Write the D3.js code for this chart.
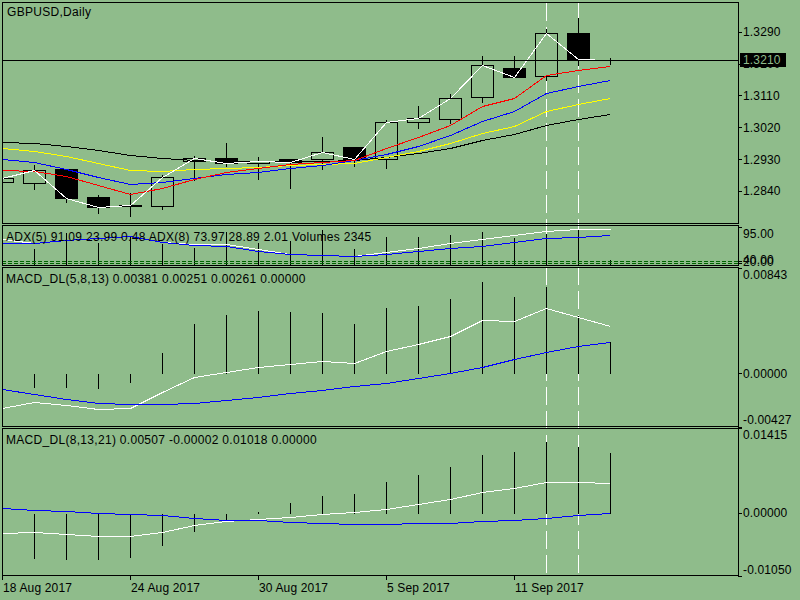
<!DOCTYPE html>
<html>
<head>
<meta charset="utf-8">
<script src="https://cdn.jsdelivr.net/npm/d3@7"></script>
<style>
  html, body { margin: 0; padding: 0; background: #8fbc8b; }
  svg { display: block; font-family: "Liberation Sans", Arial, sans-serif; font-size: 12px; letter-spacing: 0.15px; }
  .legend { letter-spacing: 0.3px; }
</style>
</head>
<body>
<div id="chart"></div>
<script>
// ---- data ----
const dates = ["18 Aug 2017","21 Aug 2017","22 Aug 2017","23 Aug 2017","24 Aug 2017","25 Aug 2017",
  "28 Aug 2017","29 Aug 2017","30 Aug 2017","31 Aug 2017","1 Sep 2017","4 Sep 2017","5 Sep 2017",
  "6 Sep 2017","7 Sep 2017","8 Sep 2017","11 Sep 2017","12 Sep 2017","13 Sep 2017","14 Sep 2017"];
const dateTickIdx = [0, 4, 8, 12, 16];
const markIdx = [17, 18]; // dashed vertical lines

const open  = [1.28663,1.28617,1.29021,1.28230,1.27990,1.27990,1.29256,1.29332,1.29199,1.29295,
               1.29295,1.29634,1.29312,1.30341,1.30425,1.31047,1.31866,1.31640,1.32855,1.32100];
const high  = [1.28800,1.29163,1.29058,1.28315,1.28363,1.28880,1.29417,1.29776,1.29389,1.29324,
               1.29954,1.29634,1.30434,1.30829,1.31177,1.32242,1.32242,1.33013,1.33324,1.32177];
const low   = [1.28620,1.28456,1.28081,1.27770,1.27702,1.27891,1.28711,1.29115,1.28739,1.28493,
               1.29030,1.29115,1.29044,1.30171,1.30312,1.30923,1.31620,1.31536,1.31959,1.31980];
const close = [1.28759,1.28985,1.28211,1.27962,1.27995,1.28787,1.29324,1.29182,1.29256,1.29228,
               1.29493,1.29304,1.30341,1.30454,1.31019,1.31951,1.31629,1.32855,1.32120,1.32102];

const maRed    = [1.28988,1.28979,1.28818,1.28578,1.28324,1.28476,1.28739,1.28928,1.29055,1.29157,
                  1.29228,1.29287,1.29615,1.29934,1.30273,1.30801,1.31041,1.31677,1.31832,1.31931];
const maBlue   = [1.29295,1.29211,1.29027,1.28804,1.28598,1.28668,1.28781,1.28880,1.28951,1.29050,
                  1.29149,1.29276,1.29459,1.29671,1.29982,1.30377,1.30674,1.31174,1.31375,1.31527];
const maYellow = [1.29623,1.29538,1.29397,1.29191,1.28993,1.28956,1.29021,1.29050,1.29086,1.29126,
                  1.29163,1.29205,1.29360,1.29544,1.29764,1.30030,1.30250,1.30654,1.30852,1.31019];
const maBlack  = [1.29793,1.29747,1.29671,1.29558,1.29417,1.29324,1.29276,1.29256,1.29247,1.29247,
                  1.29262,1.29290,1.29375,1.29482,1.29629,1.29841,1.30002,1.30264,1.30425,1.30567];
const priceTicks = [1.2840, 1.2930, 1.3020, 1.3110, 1.3200, 1.3290];

const adx5 = [65,56.25,62.5,67.5,71.75,57.5,52,53,40,27.5,26.25,23.25,31.75,42.5,54.25,65,75.75,85,90,91.09];
const adx8 = [56.25,56.25,62.5,67.5,71.75,57.5,50,48.25,35.75,28.75,26.25,21.75,27.5,34.25,41.75,48.25,56.75,66.75,69.25,73.97];
const volumes = [10000,6800,13080,9400,11720,9000,7080,13480,9200,10200,14400,6800,11480,11480,12400,13720,11080,12800,14680,2345];
const adxTicks = [95];
const adxLevels = [9, 4];
const adxLevelLabels = ["40.00", "20.00"];

const m1Hist   = [-0.00100,-0.00107,-0.00107,-0.00115,-0.00067,0.00169,0.00401,0.00474,0.00508,0.00500,
                  0.00490,0.00401,0.00530,0.00548,0.00602,0.00741,0.00621,0.00701,0.00468,0.00261];
const m1Main   = [-0.00281,-0.00228,-0.00254,-0.00289,-0.00281,-0.00148,-0.00027,0.00013,0.00053,0.00075,
                  0.00101,0.00085,0.00181,0.00235,0.00299,0.00428,0.00420,0.00522,0.00450,0.00381];
const m1Signal = [-0.00128,-0.00166,-0.00209,-0.00236,-0.00249,-0.00246,-0.00236,-0.00214,-0.00188,-0.00161,
                  -0.00134,-0.00102,-0.00075,-0.00040,0.00000,0.00053,0.00112,0.00169,0.00219,0.00251];
const m1Ticks = [-0.00427, 0, 0.00843];

const m2Hist   = [-0.00720,-0.00749,-0.00772,-0.00772,-0.00732,-0.00539,-0.00306,-0.00123,0.00038,0.00178,
                  0.00294,0.00338,0.00538,0.00655,0.00788,0.00988,0.01038,0.01210,0.01121,0.01018];
const m2Main   = [-0.00333,-0.00316,-0.00345,-0.00378,-0.00378,-0.00316,-0.00195,-0.00140,-0.00100,-0.00057,
                  -0.00012,0.00017,0.00072,0.00155,0.00238,0.00350,0.00416,0.00516,0.00516,0.00507];
const m2Signal = [0.00083,0.00055,0.00027,0.00000,-0.00017,-0.00040,-0.00083,-0.00112,-0.00123,-0.00150,
                  -0.00166,-0.00183,-0.00183,-0.00173,-0.00166,-0.00140,-0.00112,-0.00083,-0.00040,-0.00002];
const m2Ticks = [-0.01050, 0, 0.01415];

// ---- layout ----
const W = 800, H = 600;
const bg = '#8fbc8b';
const left = 2, right = 738;
const panels = {
  main: {top: 2, bottom: 223},
  adx:  {top: 225, bottom: 265},
  m1:   {top: 267, bottom: 426},
  m2:   {top: 428, bottom: 575}
};
const s = v => Math.round(v) + 0.5; // snap to pixel

const x = d3.scaleLinear().domain([0, dates.length - 1]).range([2, 610]);
const yPrice = d3.scaleLinear().domain([1.2750, 1.3374]).range([223, 2]);
const yAdx = d3.scaleLinear().domain([0, 100]).range([265, 225]);
const yVol = d3.scaleLinear().domain([0, 16000]).range([265, 225]);
const yM1 = d3.scaleLinear().domain([-0.00427, 0.00843]).range([426.5, 268.3]);
const yM2 = d3.scaleLinear().domain([-0.0105, 0.01415]).range([576, 428.3]);

const svg = d3.select('#chart').append('svg')
  .attr('width', W).attr('height', H)
  .attr('shape-rendering', 'crispEdges');

svg.append('rect').attr('width', W).attr('height', H).attr('fill', bg);

const defs = svg.append('defs');
Object.entries(panels).forEach(([k, p]) => {
  defs.append('clipPath').attr('id', 'clip-' + k)
    .append('rect').attr('x', left + 1).attr('y', p.top + 1)
    .attr('width', right - left - 1).attr('height', p.bottom - p.top - 1);
});

// dashed vertical markers (behind everything)
svg.selectAll('.vmark').data(markIdx).join('line')
  .attr('class', 'vmark')
  .attr('x1', d => s(x(d))).attr('x2', d => s(x(d)))
  .attr('y1', 3).attr('y2', 575)
  .attr('stroke', '#fff').attr('stroke-dasharray', '18,6');

function drawLine(g, values, scale, color) {
  const line = d3.line().x((d, i) => s(x(i))).y(d => s(scale(d)));
  g.append('path').datum(values)
    .attr('d', line).attr('fill', 'none')
    .attr('stroke', color).attr('stroke-width', 1);
}

// ---- main price panel ----
const gMain = svg.append('g').attr('clip-path', 'url(#clip-main)');
const candles = dates.map((d, i) => ({i, o: open[i], h: high[i], l: low[i], c: close[i]}));

gMain.selectAll('.wick').data(candles).join('line')
  .attr('class', 'wick')
  .attr('x1', d => s(x(d.i))).attr('x2', d => s(x(d.i)))
  .attr('y1', d => s(yPrice(d.h))).attr('y2', d => s(yPrice(d.l)))
  .attr('stroke', '#000');

gMain.selectAll('.body').data(candles).join('path')
  .attr('class', 'body')
  .attr('d', d => {
    const x0 = s(x(d.i) - 11), x1 = s(x(d.i) + 11);
    const y0 = s(yPrice(Math.max(d.o, d.c))), y1 = s(yPrice(Math.min(d.o, d.c)));
    return `M${x0},${y0}H${x1}V${y1}H${x0}Z`;
  })
  .attr('fill', d => d.c >= d.o ? bg : '#000')
  .attr('stroke', '#000');

drawLine(gMain, maBlack, yPrice, '#000');
drawLine(gMain, maYellow, yPrice, '#ffff00');
drawLine(gMain, maBlue, yPrice, '#0000ff');
drawLine(gMain, maRed, yPrice, '#ff0000');
drawLine(gMain, close, yPrice, '#fff');

// bid line
const bid = close[close.length - 1];
svg.append('line')
  .attr('x1', left).attr('x2', right)
  .attr('y1', s(yPrice(bid))).attr('y2', s(yPrice(bid)))
  .attr('stroke', '#000');

// ---- ADX / volumes panel ----
const gAdx = svg.append('g').attr('clip-path', 'url(#clip-adx)');
gAdx.selectAll('.vol').data(volumes).join('line')
  .attr('class', 'vol')
  .attr('x1', (d, i) => s(x(i))).attr('x2', (d, i) => s(x(i)))
  .attr('y1', s(yVol(0))).attr('y2', d => s(yVol(d)))
  .attr('stroke', '#000');
gAdx.selectAll('.lvl').data(adxLevels).join('line')
  .attr('class', 'lvl')
  .attr('x1', left).attr('x2', right)
  .attr('y1', d => s(yAdx(d))).attr('y2', d => s(yAdx(d)))
  .attr('stroke', '#006400').attr('stroke-dasharray', '4,2');
drawLine(gAdx, adx5, yAdx, '#fff');
drawLine(gAdx, adx8, yAdx, '#0000ff');

// ---- MACD panels ----
function macdPanel(key, hist, main, signal, scale) {
  const g = svg.append('g').attr('clip-path', 'url(#clip-' + key + ')');
  g.selectAll('.hist').data(hist).join('line')
    .attr('class', 'hist')
    .attr('x1', (d, i) => s(x(i))).attr('x2', (d, i) => s(x(i)))
    .attr('y1', s(scale(0))).attr('y2', d => s(scale(d)))
    .attr('stroke', '#000');
  drawLine(g, main, scale, '#fff');
  drawLine(g, signal, scale, '#0000ff');
}
macdPanel('m1', m1Hist, m1Main, m1Signal, yM1);
macdPanel('m2', m2Hist, m2Main, m2Signal, yM2);

// ---- panel borders ----
Object.values(panels).forEach(p => {
  svg.append('rect')
    .attr('x', left + 0.5).attr('y', p.top + 0.5)
    .attr('width', right - left).attr('height', p.bottom - p.top)
    .attr('fill', 'none').attr('stroke', '#000');
});

// ---- right axes ----
function rightAxis(scale, values, fmt, top, bottom) {
  const g = svg.append('g');
  g.selectAll('line').data(values).join('line')
    .attr('x1', right).attr('x2', right + 4)
    .attr('y1', d => s(scale(d))).attr('y2', d => s(scale(d)))
    .attr('stroke', '#000');
  g.selectAll('text').data(values).join('text')
    .attr('x', right + 5)
    .attr('y', d => {
      const y = scale(d);
      if (y - top < 6) return y + 10.5;     // top label sits below its tick
      if (bottom - y < 6) return y - 2.5;   // bottom label sits above its tick
      return y + 4.3;
    })
    .attr('fill', '#000')
    .text(fmt);
}
rightAxis(yPrice, priceTicks, d => d.toFixed(4), panels.main.top, panels.main.bottom);
rightAxis(yAdx, adxTicks, d => d.toFixed(2), panels.adx.top, panels.adx.bottom);
rightAxis(yM1, m1Ticks, d => d.toFixed(5), panels.m1.top, panels.m1.bottom);
rightAxis(yM2, m2Ticks, d => d.toFixed(5), panels.m2.top, panels.m2.bottom);

// ADX level ticks + overlapping labels (they overlap in the original too)
svg.selectAll('.lvlTick').data(adxLevels).join('line')
  .attr('class', 'lvlTick')
  .attr('x1', right).attr('x2', right + 4)
  .attr('y1', d => s(yAdx(d))).attr('y2', d => s(yAdx(d)))
  .attr('stroke', '#000');
svg.selectAll('.lvlLabel').data(adxLevels).join('text')
  .attr('class', 'lvlLabel')
  .attr('x', right + 5)
  .attr('y', d => yAdx(d) + 3)
  .attr('fill', '#000')
  .text((d, i) => adxLevelLabels[i]);

// bid price box
const bidY = yPrice(bid);
svg.append('rect')
  .attr('x', 740).attr('y', Math.round(bidY) - 7)
  .attr('width', 46).attr('height', 14)
  .attr('fill', '#000');
svg.append('text')
  .attr('x', 743).attr('y', bidY + 4.3)
  .attr('fill', bg)
  .text(bid.toFixed(4));

// ---- date axis ----
svg.selectAll('.dtick').data(dateTickIdx).join('line')
  .attr('class', 'dtick')
  .attr('x1', d => s(x(d))).attr('x2', d => s(x(d)))
  .attr('y1', panels.m2.bottom).attr('y2', panels.m2.bottom + 5)
  .attr('stroke', '#000');
svg.selectAll('.dlabel').data(dateTickIdx).join('text')
  .attr('class', 'dlabel')
  .attr('x', d => x(d) + 1)
  .attr('y', 591.7)
  .attr('fill', '#000')
  .text(d => dates[d]);

// ---- legends ----
const legends = [
  {text: 'GBPUSD,Daily', x: 7, y: 15.7},
  {text: 'ADX(5) 91.09 23.99 0.48 ADX(8) 73.97 28.89 2.01 Volumes 2345', x: 6, y: 241.3},
  {text: 'MACD_DL(5,8,13) 0.00381 0.00251 0.00261 0.00000', x: 6, y: 282.7},
  {text: 'MACD_DL(8,13,21) 0.00507 -0.00002 0.01018 0.00000', x: 6, y: 444}
];
svg.selectAll('.legend').data(legends).join('text')
  .attr('class', 'legend')
  .attr('x', d => d.x).attr('y', d => d.y)
  .attr('fill', '#000')
  .text(d => d.text);
</script>
</body>
</html>
